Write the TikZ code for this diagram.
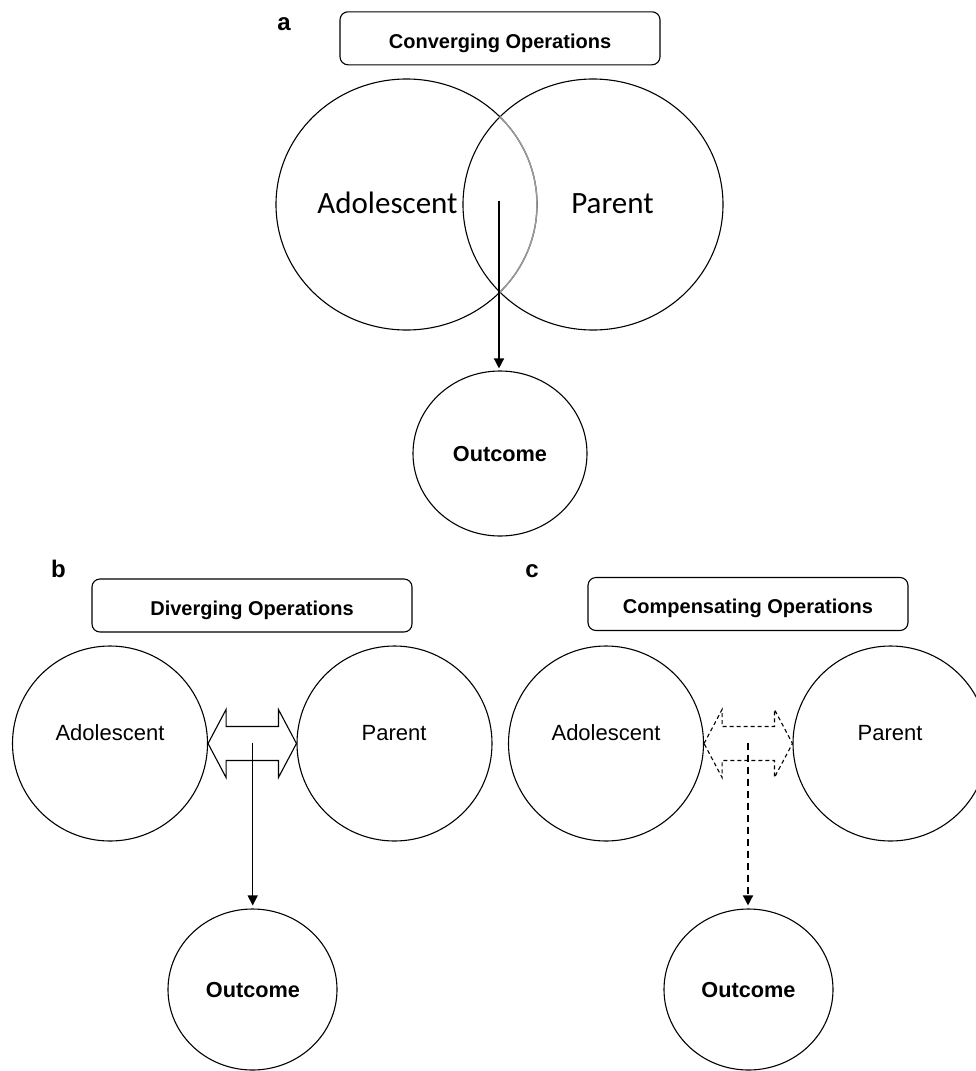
\documentclass[tikz,border=0pt]{standalone}
\usepackage{fontspec}
\setmainfont{Liberation Sans}
\newfontfamily\calib{Carlito}
\usetikzlibrary{shapes.geometric,arrows.meta,calc}
\begin{document}
\begin{tikzpicture}[x=1pt,y=-1pt,
  circ/.style={draw,ellipse,inner sep=0pt,line width=1.1pt},
  opbox/.style={draw,rounded corners=8pt,minimum width=320pt,minimum height=53pt,inner sep=0pt,line width=1.1pt,
    font=\fontsize{20}{24}\selectfont\bfseries,text height=19.5pt,text depth=0pt},
  panlab/.style={anchor=base,inner sep=0pt,font=\fontsize{24}{28}\selectfont\bfseries},
  biglab/.style={anchor=base,inner sep=0pt,font=\calib\fontsize{31}{36}\selectfont},
  lab/.style={anchor=base,inner sep=0pt,font=\fontsize{22}{26}\selectfont},
  outlab/.style={anchor=base,inner sep=0pt,font=\fontsize{21.7}{26}\selectfont\bfseries},
  arr/.style={line width=1.4pt,-{Triangle[length=10pt,width=10pt]}},
  dbl/.style={line width=1.1pt,line join=miter},
  dshape/.style={dash pattern=on 4pt off 3pt},
  dline/.style={dash pattern=on 7pt off 5pt}
]
\useasboundingbox (0,0) rectangle (976,1071);

% ---------- panel a ----------
\node[panlab] (la) at (284,30) {a};
\node[opbox] (boxa) at (500,38.3) {Converging Operations};
\node[circ,minimum width=261pt,minimum height=251pt] (adola) at (406.5,204.5) {};
\node[circ,minimum width=260pt,minimum height=251pt] (para) at (593,204.5) {};
\draw[black!40,line width=1.5pt] (adola.center) ++(-44.4:130.5 and 125.5)
  arc[start angle=-44.4,end angle=44.4,x radius=130.5,y radius=125.5];
\node[biglab] (ta) at (387.5,213.3) {Adolescent};
\node[biglab] (tpa) at (612.5,213.3) {Parent};
\node[circ,minimum width=174pt,minimum height=165pt] (outa) at (500,453.5) {};
\node[outlab] (toa) at (500,461.7) {Outcome};
\coordinate (sa) at (499,201);
\draw[arr,shorten >=2pt] (sa) -- (sa |- outa.north);

% ---------- panel b ----------
\node[panlab] (lb) at (58.5,577) {b};
\node[opbox] (boxb) at (252,605.5) {Diverging Operations};
\node[circ,minimum size=195pt] (adolb) at (110,743.5) {};
\node[circ,minimum size=195pt] (parb) at (394.5,743.5) {};
\node[lab] (tab) at (110,740) {Adolescent};
\node[lab] (tpb) at (394,740) {Parent};
\draw[dbl] (adolb.east) -- ++(18,-34) -- ++(0,17) -- ($(parb.west)+(-18,-17)$) -- ++(0,-17)
  -- (parb.west) -- ++(-18,34) -- ++(0,-17) -- ($(adolb.east)+(18,17)$) -- ++(0,17) -- cycle;
\node[circ,minimum width=169pt,minimum height=161pt] (outb) at (252.5,989.5) {};
\node[outlab] (tob) at (253,997.7) {Outcome};
\coordinate (sb) at (252.7,742.7);
\draw[arr,shorten >=3pt] (sb) -- (sb |- outb.north);

% ---------- panel c ----------
\node[panlab] (lc) at (532,577) {c};
\node[opbox] (boxc) at (748,604) {Compensating Operations};
\node[circ,minimum size=195pt] (adolc) at (606,743.5) {};
\node[circ,minimum size=195pt] (parc) at (890.5,743.5) {};
\node[lab] (tac) at (606,740) {Adolescent};
\node[lab] (tpc) at (890,740) {Parent};
\draw[dbl,dshape] (adolc.east) -- ++(18,-34) -- ++(0,17) -- ($(parc.west)+(-18,-17)$) -- ++(0,-17)
  -- (parc.west) -- ++(-18,34) -- ++(0,-17) -- ($(adolc.east)+(18,17)$) -- ++(0,17) -- cycle;
\node[circ,minimum width=169pt,minimum height=161pt] (outc) at (748.5,989.5) {};
\node[outlab] (toc) at (748.5,997.7) {Outcome};
\coordinate (sc) at (748,742.7);
\draw[arr,dline,shorten >=3pt] (sc) -- (sc |- outc.north);
\end{tikzpicture}
\end{document}
